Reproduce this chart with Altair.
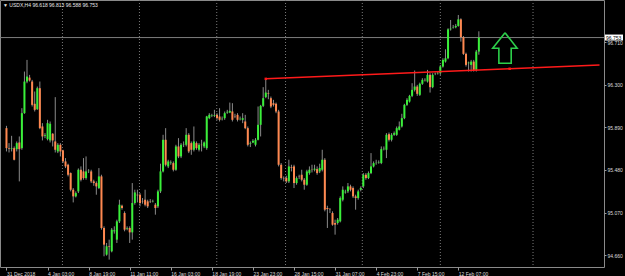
import altair as alt
import pandas as pd

symbol = "USDX,H4"

opens = [
    95.882, 95.690, 95.684, 95.690, 95.680, 95.744, 95.690, 96.026, 96.330, 96.368,
    96.330, 96.116, 96.064, 96.266, 95.898, 95.808, 95.776, 95.764, 95.828, 95.754,
    95.658, 95.722, 95.668, 95.562, 95.530, 95.450, 95.290, 95.226, 95.274, 95.482,
    95.466, 95.402, 95.469, 95.466, 95.370, 95.354, 95.306, 95.418, 94.922, 94.666,
    94.746, 94.698, 94.890, 94.810, 94.986, 95.136, 95.066, 94.912, 94.922, 94.880,
    95.162, 95.242, 95.242, 95.178, 95.194, 95.178, 95.178, 95.178, 95.146, 95.130,
    95.274, 95.466, 95.770, 95.514, 95.546, 95.546, 95.482, 95.706, 95.610, 95.722,
    95.722, 95.818, 95.738, 95.674, 95.738, 95.674, 95.722, 95.706, 95.690, 95.978,
    96.000, 96.000, 96.010, 95.994, 95.968, 95.978, 96.032, 96.032, 96.042, 95.994,
    96.010, 95.968, 95.962, 95.946, 95.882, 95.732, 95.744, 95.722, 95.770, 95.914,
    96.096, 96.180, 96.218, 96.170, 96.122, 96.116, 96.042, 95.530, 95.402, 95.402,
    95.370, 95.508, 95.514, 95.354, 95.418, 95.434, 95.386, 95.338, 95.450, 95.482,
    95.482, 95.488, 95.466, 95.482, 95.578, 95.114, 95.098, 95.066, 94.970, 94.970,
    94.986, 95.194, 95.264, 95.274, 95.322, 95.306, 95.226, 95.210, 95.290, 95.322,
    95.434, 95.402, 95.450, 95.514, 95.546, 95.552, 95.546, 95.680, 95.674, 95.824,
    95.770, 95.818, 95.818, 95.866, 95.898, 95.978, 96.106, 96.138, 96.192, 96.250,
    96.282, 96.202, 96.308, 96.346, 96.330, 96.394, 96.276, 96.404, 96.410, 96.410,
    96.474, 96.522, 96.554, 96.832, 96.848, 96.852, 96.864, 96.928, 96.756, 96.596,
    96.506, 96.490, 96.522, 96.442, 96.618,
]

highs = [
    95.904, 95.738, 95.808, 95.706, 95.754, 95.802, 96.074, 96.426, 96.538, 96.394,
    96.346, 96.234, 96.282, 96.330, 95.930, 95.834, 95.962, 95.946, 95.834, 96.180,
    95.738, 95.738, 95.674, 95.594, 95.540, 95.456, 95.306, 95.274, 95.495, 95.514,
    95.594, 95.610, 95.488, 95.482, 95.386, 95.370, 95.498, 95.434, 94.938, 94.778,
    94.810, 94.922, 94.938, 95.002, 95.194, 95.146, 95.082, 94.938, 94.938, 95.354,
    95.290, 95.290, 95.258, 95.210, 95.290, 95.194, 95.200, 95.194, 95.162, 95.290,
    95.540, 95.818, 95.882, 95.578, 95.572, 95.562, 95.722, 95.786, 95.738, 95.754,
    95.882, 95.834, 95.754, 95.898, 95.754, 95.738, 95.770, 95.754, 96.000, 96.026,
    96.020, 96.058, 96.026, 96.074, 95.994, 96.042, 96.058, 96.128, 96.122, 96.020,
    96.026, 95.994, 96.026, 96.010, 95.898, 95.754, 95.776, 95.786, 96.090, 96.106,
    96.276, 96.356, 96.250, 96.186, 96.154, 96.128, 96.058, 95.546, 95.418, 95.424,
    95.578, 95.530, 95.530, 95.418, 95.434, 95.482, 95.402, 95.482, 95.514, 95.530,
    95.530, 95.514, 95.540, 95.674, 95.594, 95.136, 95.114, 95.082, 95.002, 95.018,
    95.226, 95.322, 95.290, 95.354, 95.338, 95.322, 95.242, 95.290, 95.322, 95.450,
    95.450, 95.466, 95.642, 95.562, 95.578, 95.572, 95.706, 95.706, 95.834, 95.840,
    95.834, 95.850, 95.898, 95.946, 96.020, 96.116, 96.170, 96.202, 96.314, 96.436,
    96.298, 96.320, 96.362, 96.362, 96.442, 96.410, 96.410, 96.416, 96.426, 96.490,
    96.554, 96.640, 96.842, 96.922, 96.874, 96.884, 96.970, 96.938, 96.768, 96.608,
    96.522, 96.538, 96.538, 96.634, 96.813,
]

lows = [
    95.658, 95.648, 95.658, 95.572, 95.658, 95.370, 95.674, 96.020, 96.314, 96.330,
    96.090, 96.042, 96.058, 95.872, 95.764, 95.786, 95.764, 95.744, 95.706, 95.648,
    95.642, 95.610, 95.546, 95.498, 95.418, 95.274, 95.168, 95.216, 95.258, 95.370,
    95.386, 95.386, 95.450, 95.354, 95.328, 95.242, 95.296, 94.906, 94.650, 94.656,
    94.618, 94.688, 94.868, 94.778, 94.970, 95.098, 94.890, 94.900, 94.778, 94.810,
    95.146, 95.168, 95.130, 95.156, 95.130, 95.114, 95.162, 95.168, 95.050, 95.114,
    95.258, 95.456, 95.514, 95.498, 95.530, 95.466, 95.472, 95.594, 95.594, 95.700,
    95.706, 95.642, 95.626, 95.658, 95.674, 95.658, 95.658, 95.690, 95.674, 95.968,
    95.988, 95.988, 95.962, 95.946, 95.956, 95.962, 96.020, 96.026, 95.946, 95.978,
    95.946, 95.956, 95.930, 95.872, 95.706, 95.700, 95.738, 95.706, 95.764, 95.802,
    96.084, 96.170, 96.160, 96.074, 96.090, 96.026, 95.514, 95.386, 95.370, 95.354,
    95.354, 95.466, 95.306, 95.338, 95.392, 95.370, 95.290, 95.328, 95.434, 95.456,
    95.466, 95.434, 95.450, 95.466, 95.082, 94.922, 95.066, 94.944, 94.858, 94.954,
    94.976, 95.178, 95.252, 95.258, 95.274, 95.210, 95.098, 95.194, 95.274, 95.306,
    95.386, 95.392, 95.440, 95.504, 95.530, 95.540, 95.536, 95.668, 95.594, 95.754,
    95.754, 95.808, 95.808, 95.860, 95.888, 95.968, 96.096, 96.128, 96.180, 96.234,
    96.192, 96.192, 96.298, 96.330, 96.320, 96.224, 96.266, 96.391, 96.397, 96.394,
    96.464, 96.512, 96.544, 96.820, 96.839, 96.842, 96.858, 96.714, 96.586, 96.474,
    96.426, 96.426, 96.426, 96.426, 96.588,
]

closes = [
    95.690, 95.684, 95.690, 95.578, 95.738, 95.680, 96.026, 96.330, 96.378, 96.340,
    96.106, 96.058, 96.266, 95.882, 95.802, 95.815, 95.930, 95.924, 95.764, 95.674,
    95.722, 95.658, 95.562, 95.514, 95.434, 95.290, 95.226, 95.258, 95.482, 95.386,
    95.402, 95.466, 95.472, 95.370, 95.354, 95.322, 95.418, 94.922, 94.762, 94.746,
    94.740, 94.906, 94.900, 94.986, 95.146, 95.114, 94.906, 94.919, 94.880, 95.162,
    95.264, 95.236, 95.162, 95.175, 95.146, 95.130, 95.175, 95.181, 95.114, 95.274,
    95.466, 95.770, 95.530, 95.562, 95.552, 95.482, 95.706, 95.610, 95.722, 95.725,
    95.818, 95.658, 95.674, 95.754, 95.690, 95.722, 95.719, 95.744, 95.994, 96.010,
    96.004, 96.007, 95.978, 95.962, 95.972, 96.026, 96.039, 96.048, 95.962, 95.991,
    95.962, 95.972, 95.978, 95.882, 95.722, 95.738, 95.760, 95.770, 95.914, 96.096,
    96.170, 96.224, 96.212, 96.090, 96.106, 96.042, 95.530, 95.402, 95.399, 95.370,
    95.514, 95.501, 95.354, 95.402, 95.415, 95.386, 95.338, 95.466, 95.482, 95.479,
    95.492, 95.450, 95.498, 95.578, 95.098, 95.104, 95.095, 94.954, 94.954, 95.002,
    95.210, 95.290, 95.271, 95.322, 95.290, 95.226, 95.210, 95.274, 95.306, 95.434,
    95.402, 95.450, 95.514, 95.546, 95.549, 95.556, 95.680, 95.684, 95.818, 95.770,
    95.818, 95.834, 95.882, 95.898, 95.978, 96.106, 96.154, 96.192, 96.250, 96.282,
    96.212, 96.308, 96.346, 96.343, 96.394, 96.276, 96.394, 96.407, 96.413, 96.474,
    96.538, 96.554, 96.832, 96.839, 96.852, 96.864, 96.928, 96.756, 96.596, 96.490,
    96.512, 96.522, 96.442, 96.618, 96.753,
]

# time axis labels (every 16 H4 bars)
tick_bars = [0, 16, 32, 48, 64, 80, 96, 112, 128, 144, 160, 176]
tick_labels = ["31 Dec 2018", "4 Jan 03:00", "8 Jan 19:00", "11 Jan 11:00",
               "16 Jan 03:00", "18 Jan 19:00", "23 Jan 23:00", "28 Jan 15:00",
               "31 Jan 07:00", "4 Feb 23:00", "7 Feb 15:00", "12 Feb 07:00"]

# price axis labels
price_ticks = [94.660, 94.865, 95.070, 95.275, 95.480, 95.685,
               95.890, 96.095, 96.300, 96.505, 96.710, 96.915]

# weekly separators (bar positions)
week_seps = [21.8, 51.8, 81.9, 108.7, 138.6, 169.0, 205.1]

# trend line anchors (bar, price) and ray end
trend_bars = [101, 196, 231]
trend_prices = [96.356, 96.453, 96.489]

# arrow object (bar, price) outline
arrow_bars = [194.2, 189.4, 191.8, 191.8, 196.6, 196.6, 198.9, 194.2]
arrow_prices = [96.800, 96.650, 96.650, 96.506, 96.506, 96.650, 96.650, 96.800]

x_domain = [-0.575, 230.8]
y_domain = [94.547, 97.114]

df = pd.DataFrame({"bar": list(range(len(opens))), "open": opens, "high": highs,
                   "low": lows, "close": closes})
df["dir"] = ["up" if c > o else ("down" if c < o else "flat") for o, c in zip(opens, closes)]

x_scale = alt.Scale(domain=x_domain, nice=False, zero=False)
y_scale = alt.Scale(domain=y_domain, nice=False, zero=False)

label_expr = "''"
for b, l in reversed(list(zip(tick_bars, tick_labels))):
    label_expr = f"datum.value == {b} ? '{l}' : {label_expr}"

FONT = "Liberation Sans"
x_axis = alt.Axis(values=tick_bars, labelExpr=label_expr, labelAlign="left",
                  labelBaseline="top", labelFontSize=5, labelFont=FONT,
                  labelColor="#dcdcdc", tickColor="#9a9a9a", tickSize=3,
                  domain=False, grid=False, labelPadding=1, labelOverlap=False,
                  labelFlush=False, title=None)
y_axis = alt.Axis(orient="right", values=price_ticks, format=".3f", labelFontSize=5,
                  labelFont=FONT, labelColor="#dcdcdc", tickColor="#9a9a9a",
                  tickSize=2, domain=False, grid=False, labelPadding=1,
                  labelOverlap=False, labelFlush=False, title=None)

seps = alt.Chart(pd.DataFrame({"sep": week_seps})).mark_rule(
    color="#7a7a7a", strokeWidth=1, strokeDash=[1, 2]
).encode(x=alt.X("sep:Q", scale=x_scale, axis=x_axis))

last_price = closes[-1]
price_line = alt.Chart(pd.DataFrame({"p": [last_price]})).mark_rule(
    color="#7c7c7c", strokeWidth=1
).encode(y=alt.Y("p:Q", scale=y_scale, axis=y_axis))

wicks = alt.Chart(df).mark_rule(color="#8a8a8a", strokeWidth=1).encode(
    x=alt.X("bar:Q", scale=x_scale),
    y=alt.Y("low:Q", scale=y_scale),
    y2="high:Q",
)

bodies = alt.Chart(df).mark_bar(size=2).encode(
    x=alt.X("bar:Q", scale=x_scale),
    y=alt.Y("open:Q", scale=y_scale),
    y2="close:Q",
    color=alt.Color("dir:N", scale=alt.Scale(domain=["up", "down", "flat"],
                                             range=["#39f039", "#ff8850", "#e0e0e0"]),
                    legend=None),
)

tdf = pd.DataFrame({"bar": trend_bars, "price": trend_prices})
trend = alt.Chart(tdf).mark_line(color="#ff1a1a", strokeWidth=1.5, clip=True).encode(
    x=alt.X("bar:Q", scale=x_scale), y=alt.Y("price:Q", scale=y_scale))
trend_pts = alt.Chart(tdf.iloc[:2]).mark_square(color="#ff1a1a", size=6, opacity=1).encode(
    x=alt.X("bar:Q", scale=x_scale), y=alt.Y("price:Q", scale=y_scale))

adf = pd.DataFrame({"bar": arrow_bars, "price": arrow_prices, "o": list(range(len(arrow_bars)))})
arrow = alt.Chart(adf).mark_line(color="#2ccf4a", strokeWidth=1.6, strokeJoin="miter").encode(
    x=alt.X("bar:Q", scale=x_scale), y=alt.Y("price:Q", scale=y_scale), order="o:Q")

pdf = pd.DataFrame({"p": [last_price], "t": [f"{last_price:.3f}"]})
price_box = alt.Chart(pdf).mark_rule(color="#ffffff", strokeWidth=6).encode(
    y=alt.Y("p:Q", scale=y_scale), x=alt.value(605), x2=alt.value(623))
price_txt = alt.Chart(pdf).mark_text(align="left", baseline="middle", fontSize=5,
                                     font=FONT, color="#000000", dx=1).encode(
    y=alt.Y("p:Q", scale=y_scale), x=alt.value(605), text="t:N")

header = f"\u25bc {symbol}  {opens[-1]:.3f} {highs[-1]:.3f} {lows[-1]:.3f} {closes[-1]:.3f}"
title_txt = alt.Chart(pd.DataFrame({"t": [header]})).mark_text(
    align="left", baseline="middle", fontSize=5, font=FONT, color="#e8e8e8"
).encode(x=alt.value(3), y=alt.value(5), text="t:N")

chart = alt.layer(seps, price_line, wicks, bodies, trend, trend_pts, arrow,
                  price_box, price_txt, title_txt).properties(
    width=604, height=267,
    padding={"left": 0, "top": 0, "right": 21, "bottom": 9},
    autosize=alt.AutoSizeParams(type="none"),
).configure(background="#000000").configure_view(stroke="#8a8a8a", strokeWidth=1)

chart.save("out.html", embed_options={"renderer": "svg", "actions": False})
